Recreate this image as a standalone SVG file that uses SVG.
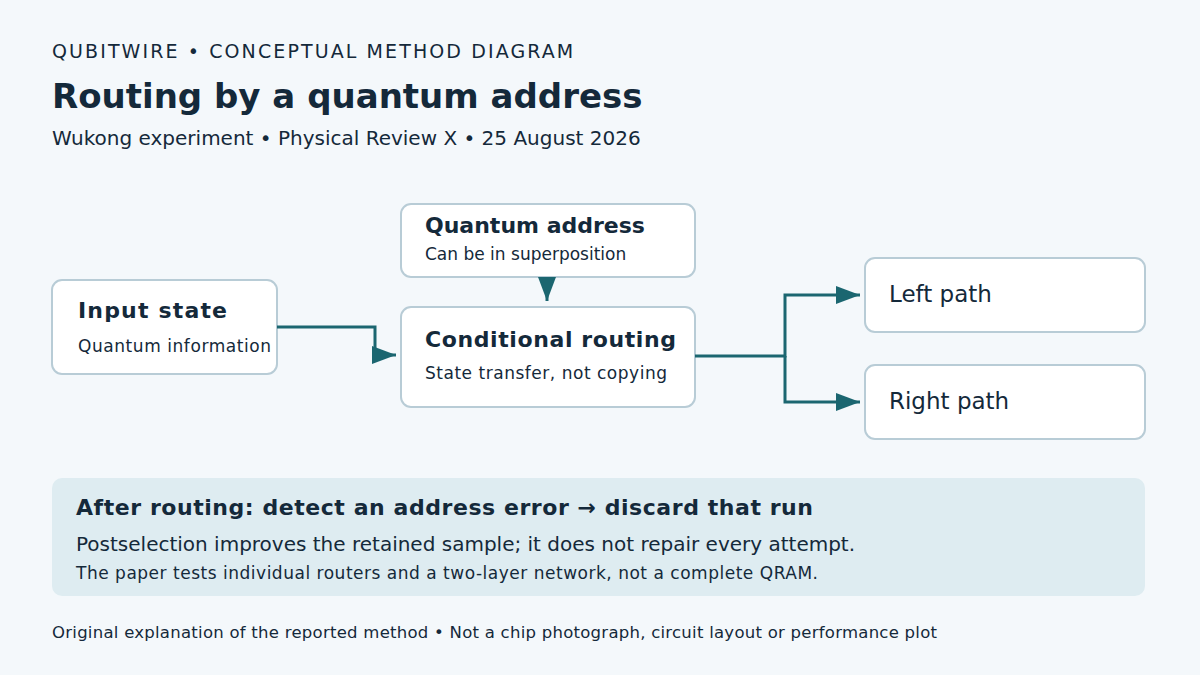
<svg xmlns="http://www.w3.org/2000/svg" width="1200" height="675" viewBox="0 0 1200 675">
<defs>
<marker id="ah" viewBox="0 0 24 18" refX="24" refY="9" markerWidth="24" markerHeight="18" markerUnits="userSpaceOnUse" orient="auto"><path d="M0,0 L24,9 L0,18 Z" fill="#1b6670"/></marker>
</defs>
<style>
text{font-family:"DejaVu Sans",sans-serif;fill:#14293a}
.box{fill:#fff;stroke:#b8ccd6;stroke-width:2}
.t{font-size:22px;font-weight:bold}
.s{font-size:17px}
.c{fill:none;stroke:#1b6670;stroke-width:3}
</style>
<rect width="1200" height="675" fill="#f4f8fb"/>
<text x="52" y="58" font-size="19" letter-spacing="2.1">QUBITWIRE • CONCEPTUAL METHOD DIAGRAM</text>
<text x="52" y="108" font-size="34" font-weight="bold">Routing by a quantum address</text>
<text x="52" y="145" font-size="20">Wukong experiment • Physical Review X • 25 August 2026</text>
<g id="input"><rect class="box" x="52" y="280" width="225" height="94" rx="10"/><text class="t" x="78" y="318" font-size="23" textLength="149">Input state</text><text class="s" x="78" y="352" textLength="193">Quantum information</text></g>
<g id="address"><rect class="box" x="401" y="204" width="294" height="73" rx="10"/><text class="t" x="425" y="233">Quantum address</text><text class="s" x="425" y="260">Can be in superposition</text></g>
<g id="routing"><rect class="box" x="401" y="307" width="294" height="100" rx="10"/><text class="t" x="425" y="347" textLength="251">Conditional routing</text><text class="s" x="425" y="379" textLength="242">State transfer, not copying</text></g>
<g id="left"><rect class="box" x="865" y="258" width="280" height="74" rx="10"/><text x="889" y="302" font-size="23">Left path</text></g>
<g id="right"><rect class="box" x="865" y="365" width="280" height="74" rx="10"/><text x="889" y="409" font-size="23">Right path</text></g>
<g id="connectors">
<path class="c" d="M277,327 H375 V355 H396" marker-end="url(#ah)"/>
<path class="c" d="M547,277 V301" marker-end="url(#ah)"/>
<path class="c" d="M695,356 H785 V295 H860" marker-end="url(#ah)"/>
<path class="c" d="M785,356 V402 H860" marker-end="url(#ah)"/>
</g>
<g id="note"><rect x="52" y="478" width="1093" height="118" rx="10" fill="#deecf1"/>
<text x="76" y="515" font-size="22" font-weight="bold" textLength="737">After routing: detect an address error → discard that run</text>
<text x="76" y="551" font-size="20">Postselection improves the retained sample; it does not repair every attempt.</text>
<text x="76" y="579" font-size="17" textLength="742">The paper tests individual routers and a two-layer network, not a complete QRAM.</text></g>
<text x="52" y="638" font-size="16.5" textLength="885">Original explanation of the reported method • Not a chip photograph, circuit layout or performance plot</text>
</svg>
